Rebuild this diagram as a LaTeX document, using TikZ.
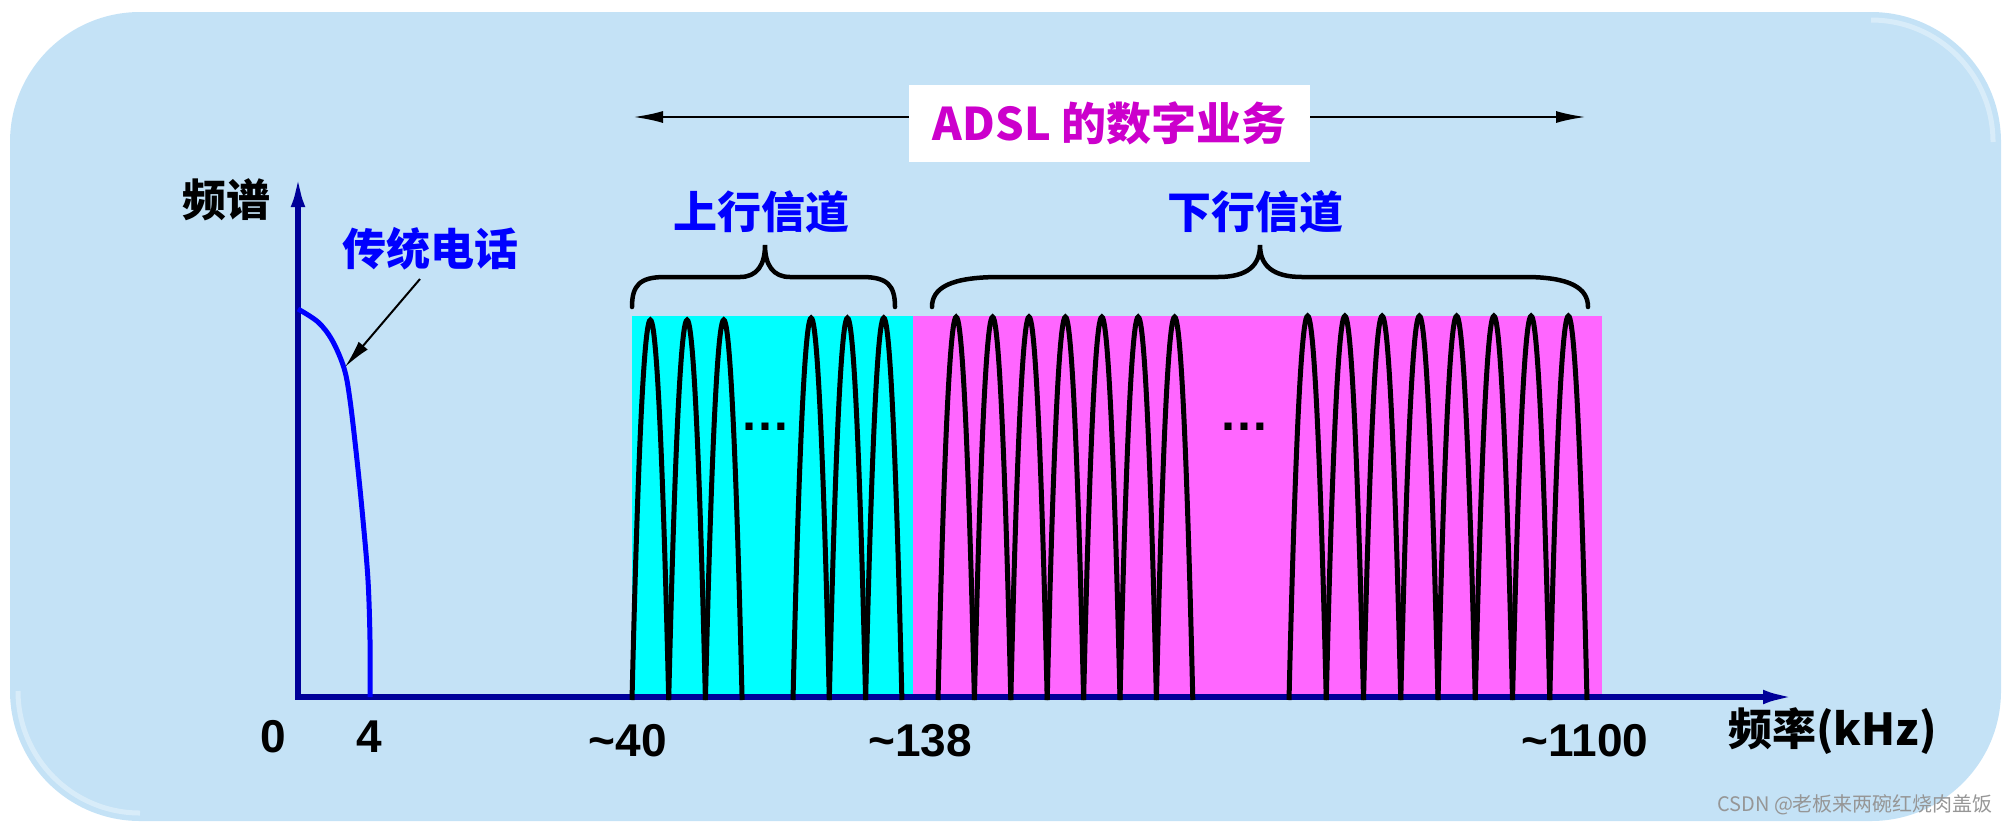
\documentclass[tikz,border=0pt]{standalone}
\usepackage{fontspec}
\newfontfamily\cjk{Noto Sans CJK SC}
\newfontfamily\numf{Liberation Sans}
\usetikzlibrary{arrows.meta}
\definecolor{bgblue}{RGB}{196,226,246}
\definecolor{axisblue}{RGB}{0,0,153}
\definecolor{phoneblue}{RGB}{0,0,255}
\definecolor{titlemag}{RGB}{204,0,204}
\definecolor{upcyan}{RGB}{0,255,255}
\definecolor{downmag}{RGB}{255,102,255}
\definecolor{wmgray}{RGB}{150,150,150}
\newcommand\humprow[4]{% x0, width, count, peak
  \foreach \i in {1,...,#3}{
    \draw[hump] ({#1+(\i-1)*#2},700) parabola bend ({#1+(\i-0.5)*#2},#4) ({#1+\i*#2},700);
  }}
\tikzset{
  cjklabel/.style={font=\cjk\bfseries\fontsize{44}{48}\selectfont, inner sep=0pt, anchor=center},
  numlabel/.style={font=\numf\bfseries\fontsize{46}{50}\selectfont, inner sep=0pt, anchor=base, black},
  hump/.style={line width=5pt, black},
  axisline/.style={line width=6pt, axisblue, line join=miter},
  bracepath/.style={line width=4.5pt, black, line cap=round},
  thinarrow/.style={line width=2.5pt, black, -{Latex[length=30pt,width=12pt]}},
  dotsstyle/.style={font=\numf\bfseries\fontsize{50}{54}\selectfont, inner sep=0pt, anchor=base, black}
}
\begin{document}
\begin{tikzpicture}[x=1pt,y=-1pt]
\useasboundingbox (0,0) rectangle (2004,823);
% background panel
\fill[bgblue, rounded corners=130pt] (10,12) rectangle (2001,821);
\draw[white, line width=5pt, opacity=0.35] (1871,20) arc[start angle=-90, end angle=0, radius=122];
\draw[white, line width=5pt, opacity=0.35] (18,691) arc[start angle=180, end angle=90, radius=122];

% channel bands
\fill[upcyan] (632,316) rectangle (913,694);
\fill[downmag] (913,316) rectangle (1602,694);

% axes
\draw[axisline, {Latex[length=35pt,width=14pt]}-{Latex[length=35pt,width=14pt]}]
  (298,172) -- (298,697) -- (1798,697);

% sub-carriers
\humprow{632}{36.7}{3}{320}
\humprow{793}{36.3}{3}{318}
\humprow{938}{36.4}{7}{317}
\humprow{1289}{37.25}{8}{316}
\node[dotsstyle] (dotsup) at (765,430) {…};
\node[dotsstyle] (dotsdown) at (1244,430) {…};

% traditional telephone spectrum
\draw[phoneblue, line width=5pt] plot[smooth, tension=0.55] coordinates
  {(298,309) (318,322) (332,340) (344,368) (350,400) (357,460) (363,520) (368,580) (370,640) (370,697)};
\coordinate (phonept) at (345,367);

% labels
\node[cjklabel, black] (spec) at (226,200) {频谱};
\node[cjklabel, phoneblue] (phone) at (430,249) {传统电话};
\coordinate (phonetail) at (420,279);
\draw[line width=2pt, black, -{Latex[length=28pt,width=12pt]}] (phonetail) -- (phonept);

% braces
\draw[bracepath] (632,307) .. controls (632,285) and (640,277) .. (665,277) -- (740,277)
  .. controls (757,277) and (765,265) .. (765,245)
  .. controls (765,265) and (773,277) .. (790,277) -- (862,277)
  .. controls (887,277) and (895,285) .. (895,307);
\draw[bracepath] (932,307) .. controls (932,288) and (950,277) .. (1000,277) -- (1218,277)
  .. controls (1248,277) and (1260,265) .. (1260,245)
  .. controls (1260,265) and (1272,277) .. (1302,277) -- (1525,277)
  .. controls (1570,277) and (1588,288) .. (1588,307);
\node[cjklabel, phoneblue] (up) at (761,212) {上行信道};
\node[cjklabel, phoneblue] (down) at (1255,212) {下行信道};

% title banner
\node[fill=white, minimum width=401pt, minimum height=77pt, inner sep=0pt,
      font=\cjk\bfseries\fontsize{45}{48}\selectfont, text=titlemag] (title) at (1109.5,123.5) {ADSL 的数字业务};
\coordinate (ltip) at (633,117);
\coordinate (rtip) at (1586,117);
\draw[thinarrow] (title.west |- ltip) -- (ltip);
\draw[thinarrow] (title.east |- rtip) -- (rtip);

% axis numbers
\node[numlabel] (n0) at (273,752) {0};
\node[numlabel] (n4) at (369,752) {4};
\node[numlabel] (n40) at (628,756) {\textasciitilde 40};
\node[numlabel] (n138) at (920,756) {\textasciitilde 138};
\node[numlabel] (n1100) at (1585,756) {\textasciitilde 1100};
\node[font=\cjk\bfseries\fontsize{44}{48}\selectfont, inner sep=0pt, anchor=base west, black] (freq) at (1728,745) {频率(kHz)};

% watermark
\node[font=\cjk\fontsize{20}{22}\selectfont, text=wmgray, inner sep=0pt, anchor=base west] (wm) at (1717,811) {CSDN @老板来两碗红烧肉盖饭};
\end{tikzpicture}
\end{document}
